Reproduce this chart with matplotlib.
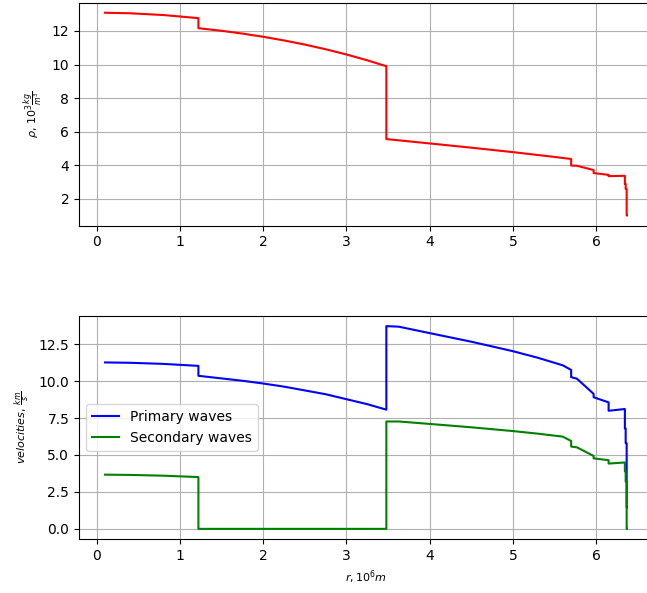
import numpy as np
import matplotlib
matplotlib.use("Agg")
import matplotlib.pyplot as plt
from matplotlib.ticker import MultipleLocator

# radius in 10^6 m, density in 10^3 kg/m^3
r_rho = [0.1, 0.4, 0.8, 1.2215, 1.2215, 1.5, 1.75, 2.0, 2.25, 2.5, 2.75, 3.0, 3.25, 3.48,
         3.48, 4.0, 4.5, 5.0, 5.5, 5.701, 5.701, 5.771, 5.971, 5.971, 6.151, 6.151,
         6.3466, 6.3466, 6.356, 6.356, 6.368, 6.368, 6.371]
rho = [13.086, 13.054, 12.949, 12.764, 12.166, 12.010, 11.845, 11.655, 11.437, 11.191, 10.913, 10.602, 10.255, 9.904,
       5.566, 5.307, 5.055, 4.790, 4.504, 4.381, 3.992, 3.976, 3.724, 3.543, 3.436, 3.360,
       3.381, 2.9, 2.9, 2.6, 2.6, 1.02, 1.02]

# radius in 10^6 m, velocities in km/s
r_vel = [0.1, 0.4, 0.8, 1.2215, 1.2215, 1.75, 2.0, 2.25, 2.75, 3.25, 3.48,
         3.48, 3.63, 4.0, 4.5, 5.0, 5.3, 5.6, 5.701, 5.701, 5.771, 5.971, 5.971,
         6.151, 6.151, 6.291, 6.3466, 6.3466, 6.356, 6.356, 6.368, 6.368, 6.371]
vp = [11.261, 11.237, 11.162, 11.028, 10.356, 10.021, 9.835, 9.624, 9.110, 8.438, 8.065,
      13.717, 13.680, 13.245, 12.665, 12.023, 11.578, 11.066, 10.751, 10.266, 10.158, 9.134, 8.905,
      8.559, 7.990, 8.076, 8.110, 6.8, 6.8, 5.8, 5.8, 1.45, 1.45]
vs = [3.667, 3.650, 3.598, 3.504, 0, 0, 0, 0, 0, 0, 0,
      7.265, 7.266, 7.100, 6.873, 6.618, 6.442, 6.240, 5.945, 5.570, 5.516, 4.933, 4.770,
      4.644, 4.419, 4.471, 4.491, 3.9, 3.9, 3.2, 3.2, 0, 0]

fig = plt.figure(figsize=(6.47, 5.93), dpi=100)

ax1 = fig.add_axes([79/647, 1-225.6/593, 574/647, 223/593])
ax1.plot(r_rho, rho, color='r')
ax1.set_ylabel(r'$\rho$, $10^3\frac{kg}{m^3}$', fontsize=8)
ax1.grid(True)

ax2 = fig.add_axes([79/647, 1-539/593, 574/647, 223/593])
ax2.plot(r_vel, vp, color='b', label='Primary waves')
ax2.plot(r_vel, vs, color='g', label='Secondary waves')
ax2.yaxis.set_major_locator(MultipleLocator(2.5))
ax2.set_ylabel(r'$velocities$, $\frac{km}{s}$', fontsize=8)
ax2.set_xlabel(r'$r, 10^6 m$', fontsize=8)
ax2.grid(True)
ax2.legend(loc='center left')

fig.savefig('out.png', dpi=100)
